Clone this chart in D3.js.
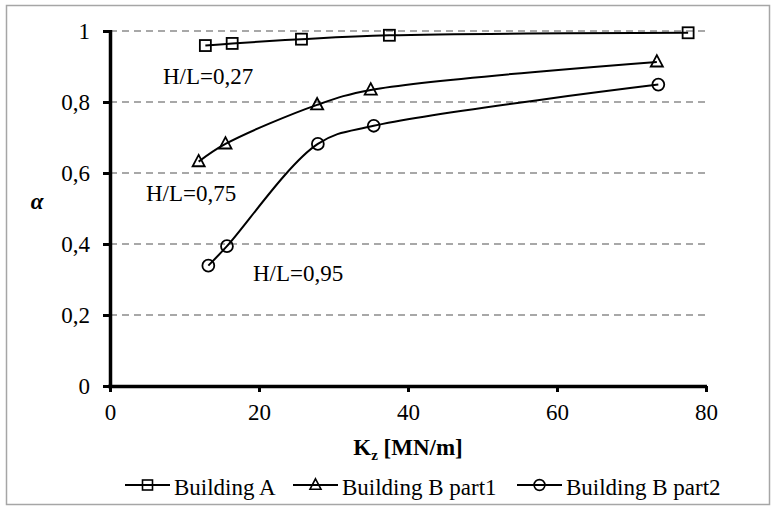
<!DOCTYPE html>
<html>
  <head>
    <meta charset="UTF-8">
    <title>alpha vs Kz</title>
    <style type="text/css">
      body { margin: 0; background: #fff; }
      svg text { font-family: 'Liberation Serif', 'DejaVu Serif', serif; fill: #000; }
      .grid line { stroke: #8c8c8c; stroke-dasharray: 7 5; stroke-width: 1.3; }
    </style>
  </head>
  <body>
    <svg width="776" height="510" font-family="Liberation Serif"></svg>
  </body>
  <script src="https://d3js.org/d3.v7.min.js"></script>
  <script type="text/javascript">
    // Building A (H/L=0,27)
    const kzA = [12.8, 16.4, 25.7, 37.5, 77.6];
    const alphaA = [0.959, 0.965, 0.977, 0.988, 0.995];
    // Building B part1 (H/L=0,75)
    const kzB1 = [11.9, 15.5, 27.8, 35.0, 73.4];
    const alphaB1 = [0.632, 0.682, 0.792, 0.834, 0.913];
    // Building B part2 (H/L=0,95)
    const kzB2 = [13.2, 15.7, 27.9, 35.4, 73.6];
    const alphaB2 = [0.339, 0.394, 0.682, 0.733, 0.849];

    const xTicks = [0, 20, 40, 60, 80];
    const yTicks = [0, 0.2, 0.4, 0.6, 0.8, 1];
    const seriesNames = ['Building A', 'Building B part1', 'Building B part2'];
    const markers = ['square', 'triangle', 'circle'];

    const FONT = 'Liberation Serif';
    let svg = d3.select('svg');

    // outer frame
    svg.append('rect')
      .attr('x', 6.5).attr('y', 5.5)
      .attr('width', 763).attr('height', 499)
      .attr('fill', 'none').attr('stroke', '#a6a6a6').attr('stroke-width', 1.5);

    const x = d3.scaleLinear().domain([0, 80]).range([110, 706]);
    const y = d3.scaleLinear().domain([0, 1]).range([386, 31]);

    const fmt = d => String(d).replace('.', ',');

    // gridlines
    svg.append('g').attr('class', 'grid')
      .selectAll('line')
      .data(yTicks.filter(d => d > 0))
      .join('line')
        .attr('x1', x(0)).attr('x2', x(80))
        .attr('y1', d => y(d)).attr('y2', d => y(d));

    // axes
    const xAxis = svg.append('g')
      .attr('transform', `translate(0,${y(0)})`)
      .call(d3.axisBottom(x).tickValues(xTicks).tickFormat(fmt).tickSize(6).tickPadding(6));
    const yAxis = svg.append('g')
      .attr('transform', `translate(${x(0)},0)`)
      .call(d3.axisLeft(y).tickValues(yTicks).tickFormat(fmt).tickSize(7).tickPadding(13));

    [xAxis, yAxis].forEach(a => {
      a.attr('font-family', FONT).attr('font-size', 23);
      a.select('.domain').attr('stroke', '#000').attr('stroke-width', 3.5);
      a.selectAll('.tick line').attr('stroke', '#000').attr('stroke-width', 3);
    });
    xAxis.select('.domain').attr('d', `M${x(0) - 2},0.5H${x(80) + 1}`);
    yAxis.select('.domain').attr('d', `M0.5,${y(1) - 1}V${y(0) + 2}`);
    yAxis.selectAll('.tick text').attr('dy', '0.34em');
    xAxis.selectAll('.tick text').attr('dy', '0.95em');

    // axis titles
    const xt = svg.append('text')
      .attr('x', 408).attr('y', 455)
      .attr('text-anchor', 'middle')
      .attr('font-family', FONT)
      .attr('font-weight', 'bold').attr('font-size', 23);
    xt.append('tspan').text('K');
    xt.append('tspan').attr('font-size', 15).attr('dy', 5).text('z');
    xt.append('tspan').attr('dy', -5).text(' [MN/m]');

    svg.append('text')
      .attr('x', 37).attr('y', 209)
      .attr('text-anchor', 'middle')
      .attr('font-family', FONT)
      .attr('font-weight', 'bold').attr('font-style', 'italic').attr('font-size', 23)
      .text('α');

    const series = [
      kzA.map((k, i) => [k, alphaA[i]]),
      kzB1.map((k, i) => [k, alphaB1[i]]),
      kzB2.map((k, i) => [k, alphaB2[i]])
    ];

    const line = d3.line()
      .x(d => x(d[0])).y(d => y(d[1]))
      .curve(d3.curveCatmullRom.alpha(0.5));

    const drawMarker = (g, type, cx, cy, s) => {
      if (type === 'square') {
        g.append('rect').attr('x', cx - s / 2).attr('y', cy - s / 2)
          .attr('width', s).attr('height', s);
      } else if (type === 'triangle') {
        g.append('path').attr('d', `M${cx},${cy - s * 0.62}L${cx + s * 0.55},${cy + s * 0.42}L${cx - s * 0.55},${cy + s * 0.42}Z`);
      } else {
        g.append('circle').attr('cx', cx).attr('cy', cy).attr('r', s * 0.54);
      }
    };

    series.forEach((s, i) => {
      svg.append('path')
        .attr('d', line(s))
        .attr('fill', 'none').attr('stroke', '#000').attr('stroke-width', 2);
      const mg = svg.append('g')
        .attr('fill', 'none').attr('stroke', '#000').attr('stroke-width', 1.8);
      s.forEach(d => drawMarker(mg, markers[i], x(d[0]), y(d[1]), 11));
    });

    // in-plot labels
    const labels = [['H/L=0,27', 163, 84], ['H/L=0,75', 146, 201], ['H/L=0,95', 253, 281]];
    svg.selectAll('.hl')
      .data(labels)
      .join('text')
        .attr('class', 'hl')
        .attr('x', d => d[1]).attr('y', d => d[2])
        .attr('font-family', FONT)
        .attr('font-size', 23)
        .text(d => d[0]);

    // legend
    const legendX = [125, 293, 517];
    seriesNames.forEach((name, i) => {
      const lg = svg.append('g').attr('transform', `translate(${legendX[i]},485)`);
      lg.append('line').attr('x1', 0).attr('x2', 45).attr('y1', 0).attr('y2', 0)
        .attr('stroke', '#000').attr('stroke-width', 2);
      const mg = lg.append('g').attr('fill', 'none').attr('stroke', '#000').attr('stroke-width', 1.6);
      drawMarker(mg, markers[i], 22.5, 0, 10);
      lg.append('text').attr('x', 49).attr('y', 10)
        .attr('font-family', FONT)
        .attr('font-size', 23).text(name);
    });
  </script>
</html>
